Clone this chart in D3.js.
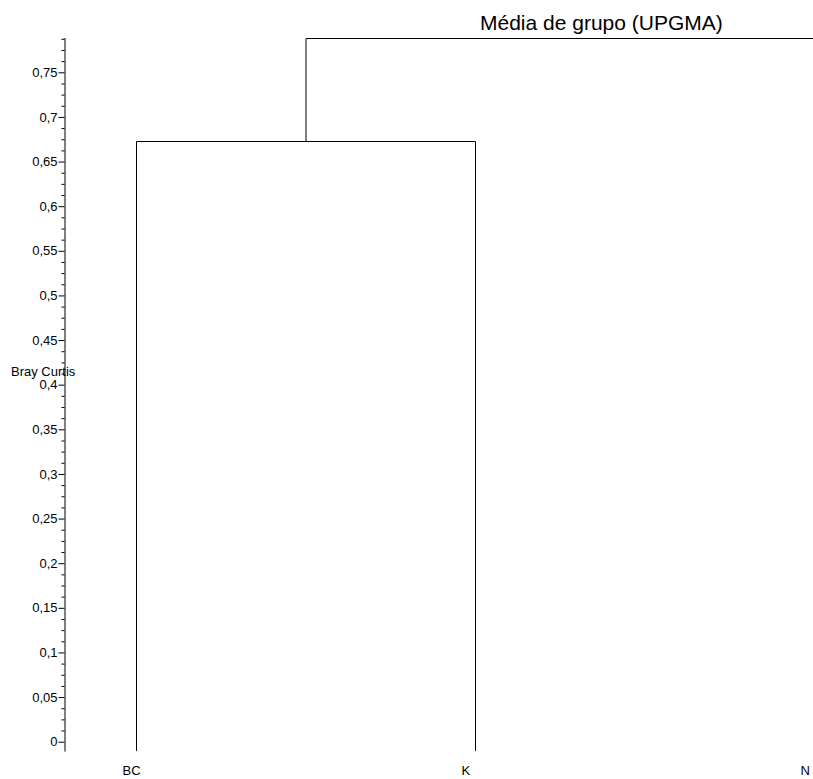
<!DOCTYPE html>
<html>
<head>
<meta charset="utf-8">
<script src="https://cdn.jsdelivr.net/npm/d3@7"></script>
<style>
  body { margin: 0; background: #fff; }
  svg { display: block; font-family: "Liberation Sans", Arial, sans-serif; }
</style>
</head>
<body>
<div id="chart"></div>
<script>
// data
var leaves = ["BC", "K", "N"];
// merges: node ids 0..2 are leaves, 3.. are clusters in order
var mergeLeft = [0, 3];
var mergeRight = [1, 2];
var mergeHeight = [0.673, 0.788];
var majorTicks = [0, 0.05, 0.1, 0.15, 0.2, 0.25, 0.3, 0.35, 0.4, 0.45, 0.5, 0.55, 0.6, 0.65, 0.7, 0.75];
var title = "Média de grupo (UPGMA)";
var yLabel = "Bray Curtis";

var width = 813, height = 779;
var axisLo = -0.0105, axisHi = 0.789;

var svg = d3.select("#chart").append("svg")
    .attr("width", width)
    .attr("height", height);

var x = d3.scalePoint().domain(leaves).range([136.5, 814.5]);
var y = d3.scaleLinear().domain([0, 0.75]).range([741.7, 72.3]);
var yAxisScale = y.copy().domain([axisLo, axisHi]).range([y(axisLo), y(axisHi)]);

var fmt = d3.formatLocale({decimal: ",", thousands: ".", grouping: [3], currency: ["", ""]}).format(".2~f");

// minor ticks every 0.0125, skipping the major ones
var minorTicks = d3.range(0, 64)
    .filter(function(i) { return i % 4 !== 0; })
    .map(function(i) { return i * 0.0125; })
    .filter(function(v) { return v <= axisHi; });

var axisG = svg.append("g").attr("transform", "translate(64.5,0)");

axisG.append("g")
    .call(d3.axisLeft(yAxisScale).tickValues(minorTicks).tickSize(3).tickSizeOuter(0).tickFormat(""))
    .call(function(g) {
      g.select(".domain").remove();
      g.selectAll("line").attr("stroke", "#000");
    });

axisG.append("g")
    .call(d3.axisLeft(yAxisScale).tickValues(majorTicks).tickSize(6).tickSizeOuter(0).tickPadding(1).tickFormat(fmt))
    .call(function(g) {
      g.attr("font-family", null).attr("font-size", null);
      g.selectAll("text").attr("font-size", 13).attr("fill", "#000");
      g.selectAll("line, path").attr("stroke", "#000");
    });

// dendrogram nodes
var nodeX = leaves.map(function(d) { return x(d); });
var nodeH = leaves.map(function() { return axisLo; });
mergeLeft.forEach(function(l, i) {
  var r = mergeRight[i];
  nodeX.push((nodeX[l] + nodeX[r]) / 2);
  nodeH.push(mergeHeight[i]);
});

svg.append("g").selectAll("path")
  .data(mergeLeft.map(function(l, i) { return {l: l, r: mergeRight[i], h: mergeHeight[i]}; }))
  .join("path")
    .attr("fill", "none")
    .attr("stroke", "#000")
    .attr("stroke-width", 1)
    .attr("d", function(d) {
      var yh = Math.round(y(d.h)) + 0.5;
      return "M" + nodeX[d.l] + "," + y(nodeH[d.l]) +
             "V" + yh + "H" + nodeX[d.r] + "V" + y(nodeH[d.r]);
    });

// leaf labels
svg.append("g").selectAll("text")
  .data(leaves)
  .join("text")
    .attr("x", function(d) { return x(d) - 14; })
    .attr("y", 775)
    .attr("font-size", 13)
    .text(function(d) { return d; });

// y label
svg.append("text")
    .attr("x", 11)
    .attr("y", 376)
    .attr("font-size", 13)
    .text(yLabel);

// title
svg.append("text")
    .attr("x", 480)
    .attr("y", 30)
    .attr("font-size", 21)
    .text(title);
</script>
</body>
</html>
